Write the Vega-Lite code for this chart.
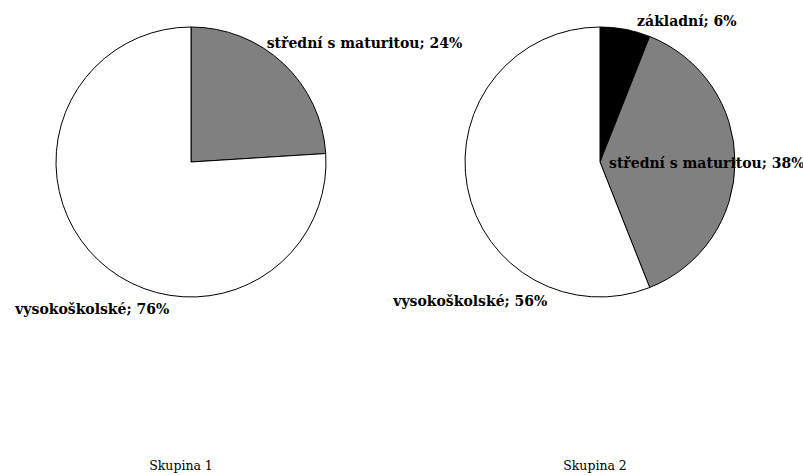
{
  "$schema": "https://vega.github.io/schema/vega-lite/v6.json",
  "padding": 0,
  "bounds": "flush",
  "background": "white",
  "config": {"view": {"stroke": null}, "concat": {"spacing": 27}, "text": {"font": "DejaVu Serif", "fontWeight": "bold", "fontSize": 14, "color": "#000000"}},
  "datasets": {
    "d": [
      {"group": "Skupina 1", "category": "střední s maturitou", "value": 24, "label": "střední s maturitou; 24%"},
      {"group": "Skupina 1", "category": "vysokoškolské", "value": 76, "label": "vysokoškolské; 76%"},
      {"group": "Skupina 2", "category": "základní", "value": 6, "label": "základní; 6%"},
      {"group": "Skupina 2", "category": "střední s maturitou", "value": 38, "label": "střední s maturitou; 38%"},
      {"group": "Skupina 2", "category": "vysokoškolské", "value": 56, "label": "vysokoškolské; 56%"}
    ]
  },
  "hconcat": [
    {
      "width": 382, "height": 324,
      "data": {"name": "d"},
      "transform": [{"filter": "datum.group == 'Skupina 1'"}],
      "title": {"text": "Skupina 1", "orient": "bottom", "offset": 136, "baseline": "top", "font": "DejaVu Serif", "fontSize": 12.5, "fontWeight": "normal", "dx": -10},
      "encoding": {
        "theta": {"field": "value", "type": "quantitative", "stack": true},
        "order": {"field": "value", "sort": "ascending"}
      },
      "layer": [
        {"mark": {"type": "arc", "radius": 135, "stroke": "#000000", "strokeWidth": 1},
         "encoding": {"color": {"field": "category", "type": "nominal", "legend": null,
           "scale": {"domain": ["základní", "střední s maturitou", "vysokoškolské"], "range": ["#000000", "#808080", "#ffffff"]}}}},
        {"mark": {"type": "text", "radius": 134, "align": "left", "baseline": "middle", "dx": -16, "dy": -20},
         "encoding": {"text": {"condition": {"test": "datum.category == 'střední s maturitou'", "field": "label", "type": "nominal"}, "value": ""}}},
        {"mark": {"type": "text", "radius": 134, "align": "center", "baseline": "middle", "dx": -7, "dy": 50},
         "encoding": {"text": {"condition": {"test": "datum.category == 'vysokoškolské'", "field": "label", "type": "nominal"}, "value": ""}}}
      ]
    },
    {
      "width": 382, "height": 324,
      "data": {"name": "d"},
      "transform": [{"filter": "datum.group == 'Skupina 2'"}],
      "title": {"text": "Skupina 2", "orient": "bottom", "offset": 136, "baseline": "top", "font": "DejaVu Serif", "fontSize": 12.5, "fontWeight": "normal", "dx": -5},
      "encoding": {
        "theta": {"field": "value", "type": "quantitative", "stack": true},
        "order": {"field": "value", "sort": "ascending"}
      },
      "layer": [
        {"mark": {"type": "arc", "radius": 135, "stroke": "#000000", "strokeWidth": 1},
         "encoding": {"color": {"field": "category", "type": "nominal", "legend": null,
           "scale": {"domain": ["základní", "střední s maturitou", "vysokoškolské"], "range": ["#000000", "#808080", "#ffffff"]}}}},
        {"mark": {"type": "text", "radius": 134, "align": "left", "baseline": "middle", "dx": 12, "dy": -8},
         "encoding": {"text": {"condition": {"test": "datum.category == 'základní'", "field": "label", "type": "nominal"}, "value": ""}}},
        {"mark": {"type": "text", "radius": 10, "align": "left", "baseline": "middle", "dx": -1, "dy": 2},
         "encoding": {"text": {"condition": {"test": "datum.category == 'střední s maturitou'", "field": "label", "type": "nominal"}, "value": ""}}},
        {"mark": {"type": "text", "radius": 134, "align": "center", "baseline": "middle", "dx": 2, "dy": 115},
         "encoding": {"text": {"condition": {"test": "datum.category == 'vysokoškolské'", "field": "label", "type": "nominal"}, "value": ""}}}
      ]
    }
  ]
}
